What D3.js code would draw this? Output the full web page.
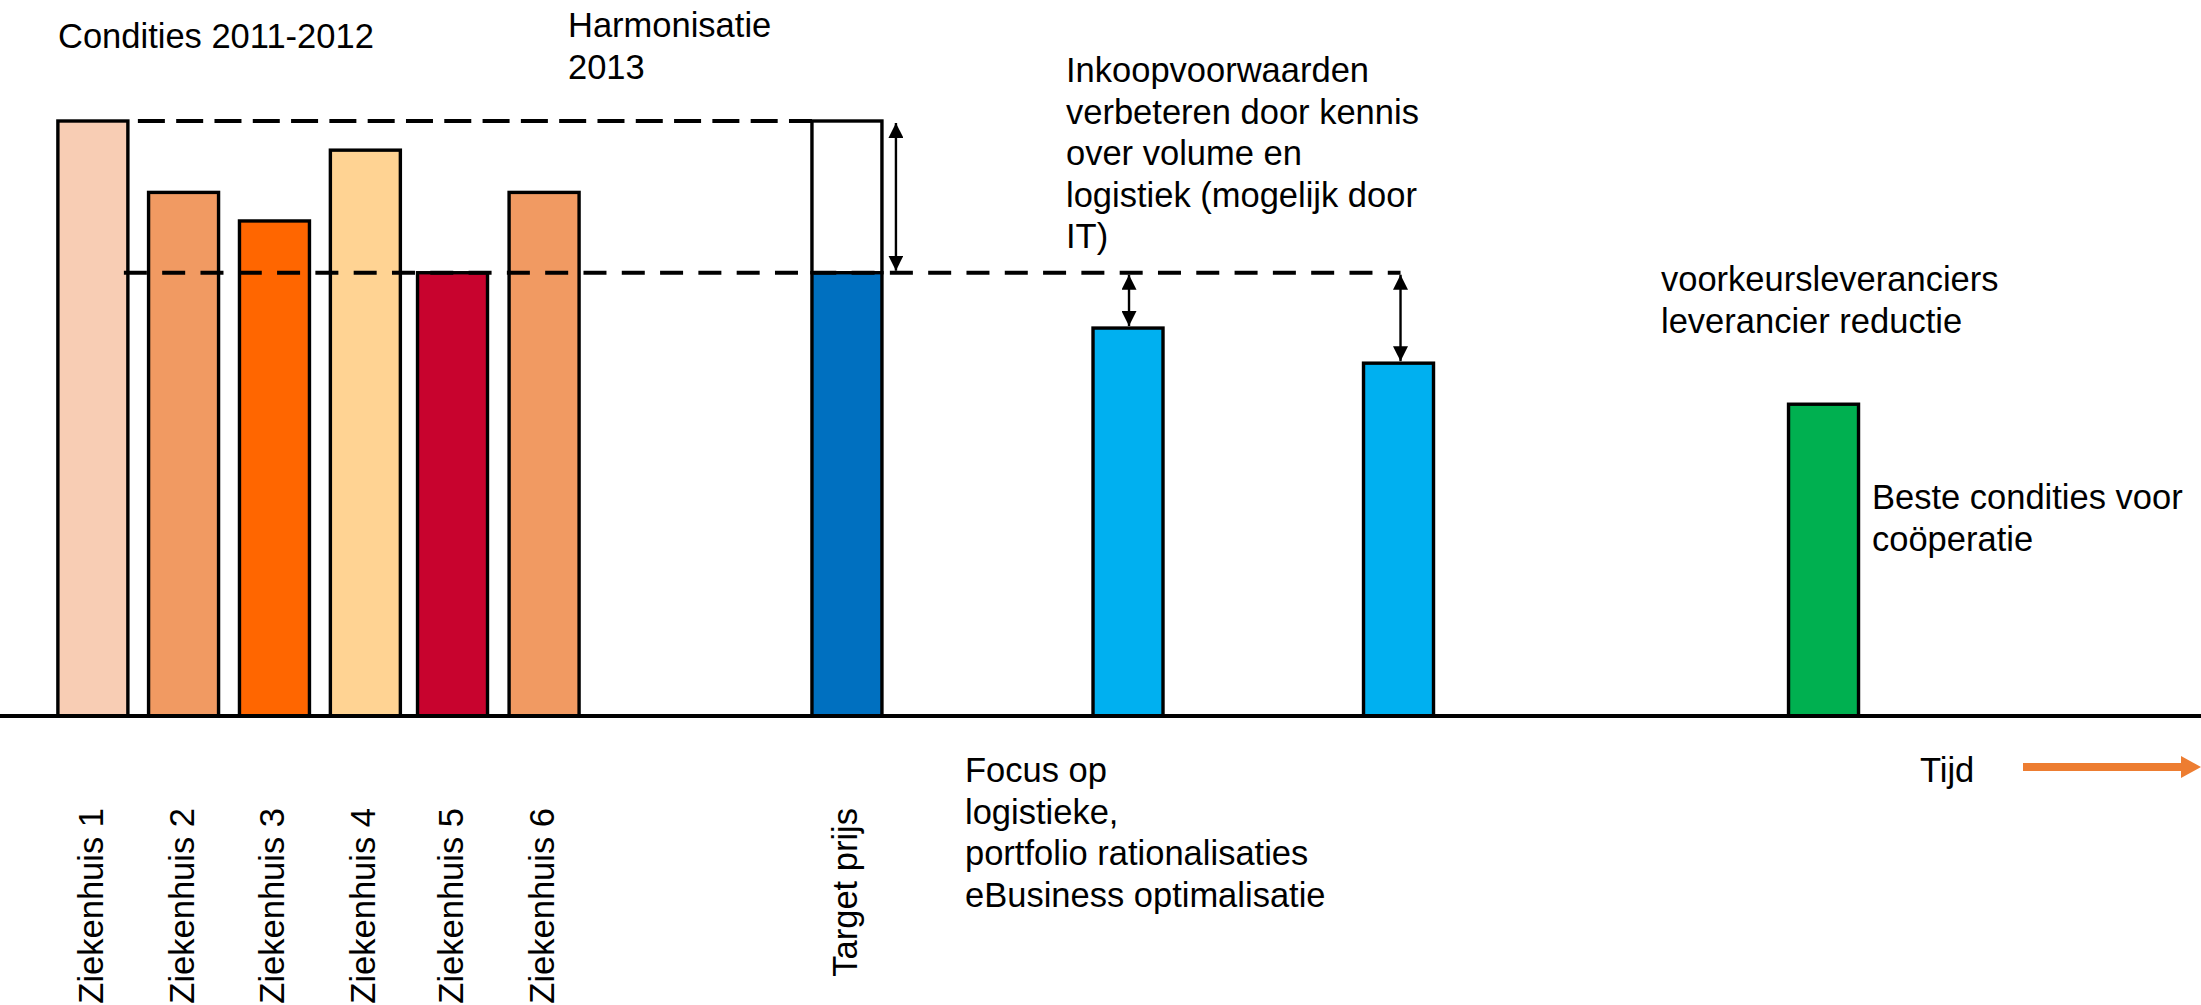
<!DOCTYPE html>
<html>
<head>
<meta charset="utf-8">
<script src="https://cdn.jsdelivr.net/npm/d3@7"></script>
<style>
  html, body { margin: 0; padding: 0; background: #ffffff; }
  svg { display: block; }
  text { font-family: "Liberation Sans", Arial, sans-serif; fill: #000; }
</style>
</head>
<body>
<svg id="chart" width="2201" height="1005"></svg>
<script>
// ---------------- DATA ----------------
// Categories (bars, left to right along the time line)
const categories = ["Ziekenhuis 1", "Ziekenhuis 2", "Ziekenhuis 3", "Ziekenhuis 4",
                    "Ziekenhuis 5", "Ziekenhuis 6", "Target prijs",
                    "Stap 1", "Stap 2", "Coöperatie"];
// Price level (index, Ziekenhuis 1 = 100)
const values = [100, 88, 83.2, 95.1, 74.5, 88, 74.5, 65.2, 59.3, 52.4];
// Position on the time line (percent of timeline)
const timePos = [4.22, 8.34, 12.47, 16.6, 20.56, 24.72, 38.48, 51.25, 63.54, 82.85];
// Colours per bar
const barColors = ["#F8CDB4", "#F19A62", "#FF6600", "#FFD393", "#C8032E",
                   "#F19A62", "#0070C0", "#00B0F0", "#00B0F0", "#00B050"];
// Axis labels shown under the bars (first seven bars)
const tickLabels = ["Ziekenhuis 1", "Ziekenhuis 2", "Ziekenhuis 3", "Ziekenhuis 4",
                    "Ziekenhuis 5", "Ziekenhuis 6", "Target prijs"];
// Reference levels
const highLevel = 100;    // highest condition 2011-2012
const targetLevel = 74.5; // harmonised target price

// Annotation texts
const txtCondities = ["Condities 2011-2012"];
const txtHarmonisatie = ["Harmonisatie", "2013"];
const txtInkoop = ["Inkoopvoorwaarden", "verbeteren door kennis", "over volume en",
                   "logistiek (mogelijk door", "IT)"];
const txtFocus = ["Focus op", "logistieke,", "portfolio rationalisaties", "eBusiness optimalisatie"];
const txtVoorkeur = ["voorkeursleveranciers", "leverancier reductie"];
const txtBeste = ["Beste condities voor", "coöperatie"];
const txtTijd = ["Tijd"];

// ---------------- CHART ----------------
const W = 2201, H = 1005;
const svg = d3.select("#chart");
svg.append("rect").attr("width", W).attr("height", H).attr("fill", "#fff");

const x = d3.scaleLinear().domain([0, 100]).range([0, W]);
const y = d3.scaleLinear().domain([0, 100]).range([716, 121]);
const barW = x(3.18) - x(0);
const FS = 34.5;
const LH = 41.6;

const defs = svg.append("defs");
defs.append("marker").attr("id", "ah").attr("viewBox", "0 0 10 10")
  .attr("refX", 10).attr("refY", 5)
  .attr("markerWidth", 15).attr("markerHeight", 15)
  .attr("markerUnits", "userSpaceOnUse")
  .attr("orient", "auto-start-reverse")
  .append("path").attr("d", "M0,0 L10,5 L0,10 Z").attr("fill", "#000");

const data = categories.map((c, i) => ({ c, v: values[i], t: timePos[i], col: barColors[i] }));

// Target bar: white "gap" part from target level up to the high level
const tgt = data[6];
svg.append("rect")
  .attr("x", x(tgt.t) - barW / 2).attr("width", barW)
  .attr("y", y(highLevel)).attr("height", y(tgt.v) - y(highLevel))
  .attr("fill", "#fff").attr("stroke", "#000").attr("stroke-width", 3.4);

// Bars
svg.append("g").selectAll("rect").data(data).join("rect")
  .attr("x", d => x(d.t) - barW / 2)
  .attr("width", barW)
  .attr("y", d => y(d.v))
  .attr("height", d => y(0) - y(d.v))
  .attr("fill", d => d.col)
  .attr("stroke", "#000")
  .attr("stroke-width", 3.4);

// Upper dashed reference line (from bar 1 to target bar)
svg.append("line")
  .attr("x1", x(data[0].t) + barW / 2).attr("x2", x(tgt.t) - barW / 2)
  .attr("y1", y(highLevel)).attr("y2", y(highLevel))
  .attr("stroke", "#000").attr("stroke-width", 4)
  .attr("stroke-dasharray", "27,11.3").attr("stroke-dashoffset", -10);

// Lower dashed line at target level
const lowEnd = x(data[8].t) + 2;
svg.append("line")
  .attr("x1", x(data[0].t) + barW / 2 - 4).attr("x2", lowEnd)
  .attr("y1", y(targetLevel)).attr("y2", y(targetLevel))
  .attr("stroke", "#000").attr("stroke-width", 4)
  .attr("stroke-dasharray", "23,15.3");

// Double arrows
function dblArrow(xp, v1, v2) {
  svg.append("line")
    .attr("x1", xp).attr("x2", xp)
    .attr("y1", y(v1) + 2).attr("y2", y(v2) - 2)
    .attr("stroke", "#000").attr("stroke-width", 2.4)
    .attr("marker-start", "url(#ah)").attr("marker-end", "url(#ah)");
}
dblArrow(x(tgt.t) + barW / 2 + 14, highLevel, tgt.v);
dblArrow(x(data[7].t) + 1, targetLevel, data[7].v);
dblArrow(x(data[8].t) + 2, targetLevel, data[8].v);

// Baseline (time axis)
svg.append("line")
  .attr("x1", 0).attr("x2", W)
  .attr("y1", y(0)).attr("y2", y(0))
  .attr("stroke", "#000").attr("stroke-width", 4);

// Rotated category labels
svg.append("g").selectAll("text").data(tickLabels).join("text")
  .attr("transform", (d, i) => `translate(${x(timePos[i]) + 10},808) rotate(-90)`)
  .attr("text-anchor", "end")
  .attr("font-size", FS)
  .text(d => d);

// Multi-line annotation helper
function block(lines, x0, y0) {
  const t = svg.append("text").attr("x", x0).attr("y", y0).attr("font-size", FS);
  lines.forEach((l, i) => t.append("tspan").attr("x", x0).attr("dy", i === 0 ? 0 : LH).text(l));
}
block(txtCondities, 58, 48);
block(txtHarmonisatie, 568, 37);
block(txtInkoop, 1066, 82);
block(txtFocus, 965, 782);
block(txtVoorkeur, 1661, 291);
block(txtBeste, 1872, 509);
block(txtTijd, 1920, 782);

// Orange time arrow
svg.append("line")
  .attr("x1", 2023).attr("x2", 2184)
  .attr("y1", 767).attr("y2", 767)
  .attr("stroke", "#ED7D31").attr("stroke-width", 8);
svg.append("path")
  .attr("d", "M2181,756 L2201,767 L2181,778 Z")
  .attr("fill", "#ED7D31");
</script>
</body>
</html>
